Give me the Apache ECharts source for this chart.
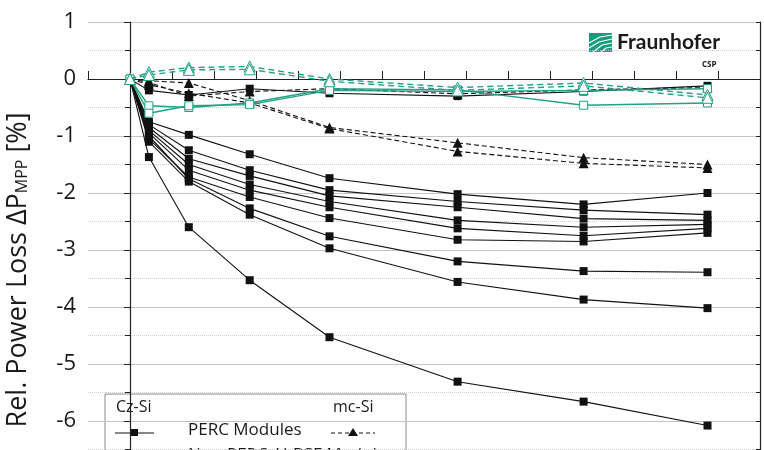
<!DOCTYPE html>
<html>
<head>
<meta charset="utf-8">
<script src="https://cdn.jsdelivr.net/npm/echarts@6/dist/echarts.min.js"></script>
<style>
  html, body { margin: 0; padding: 0; background: #fff; }
  #chart { width: 764px; height: 450px; }
</style>
</head>
<body>
<div id="chart"></div>
<script>
// measurement points on the x axis (axis ticks every 10 units)
const xPoints = [0, 4.5, 14, 28.5, 47.5, 78, 108, 137.5];

// Cz-Si PERC modules: solid black, filled squares
const czPerc = [
  [0, -1.37, -2.6, -3.53, -4.53, -5.31, -5.66, -6.08],
  [0, -1.1, -1.8, -2.38, -2.97, -3.56, -3.87, -4.02],
  [0, -1.0, -1.75, -2.27, -2.76, -3.2, -3.37, -3.39],
  [0, -0.75, -0.98, -1.32, -1.74, -2.02, -2.2, -2.0],
  [0, -0.8, -1.25, -1.6, -1.95, -2.15, -2.3, -2.38],
  [0, -0.85, -1.4, -1.7, -2.05, -2.25, -2.45, -2.48],
  [0, -0.9, -1.5, -1.85, -2.15, -2.48, -2.6, -2.55],
  [0, -0.95, -1.6, -1.95, -2.25, -2.62, -2.75, -2.62],
  [0, -1.05, -1.72, -2.07, -2.44, -2.82, -2.85, -2.7],
  [0, -0.2, -0.28, -0.17, -0.25, -0.3, -0.22, -0.12]
];

// mc-Si PERC modules: dashed black, filled triangles
const mcPerc = [
  [0, -0.03, -0.07, -0.38, -0.85, -1.12, -1.38, -1.5],
  [0, -0.1, -0.25, -0.42, -0.87, -1.27, -1.48, -1.56],
  [0, -0.06, -0.3, -0.22, -0.17, -0.26, -0.19, -0.15]
];

// Cz-Si Al-BSF modules: solid teal, open squares
const czBsf = [
  [0, -0.47, -0.5, -0.42, -0.17, -0.19, -0.46, -0.42],
  [0, -0.6, -0.47, -0.45, -0.2, -0.22, -0.2, -0.17]
];

// mc-Si Al-BSF modules: dashed teal, open triangles
const mcBsf = [
  [0, 0.12, 0.2, 0.22, 0.0, -0.15, -0.07, -0.28],
  [0, 0.07, 0.16, 0.17, -0.04, -0.2, -0.12, -0.33]
];

// y axis tick labels
const yTicks = [1, 0, -1, -2, -3, -4, -5, -6, -7];

const black = '#111111';
const teal = '#23a085';
const font = 'Open Sans';

const toPoints = (values, hideFirst) =>
  values.map((v, i) => (i === 0 && hideFirst ? { value: [xPoints[i], v], symbol: 'none' } : [xPoints[i], v]));

const series = [];

czPerc.forEach((vals) => {
  series.push({
    type: 'line',
    data: toPoints(vals, true),
    symbol: 'rect',
    symbolSize: 8,
    lineStyle: { color: black, width: 1.1 },
    itemStyle: { color: black },
    animation: false,
    z: 2
  });
});

mcPerc.forEach((vals) => {
  series.push({
    type: 'line',
    data: toPoints(vals, true),
    symbol: 'triangle',
    symbolSize: 10,
    lineStyle: { color: black, width: 1.1, type: [5, 3] },
    itemStyle: { color: black },
    animation: false,
    z: 3
  });
});

czBsf.forEach((vals) => {
  series.push({
    type: 'line',
    data: toPoints(vals, false),
    symbol: 'rect',
    symbolSize: 8,
    lineStyle: { color: teal, width: 1.4 },
    itemStyle: { color: '#fff', borderColor: teal, borderWidth: 1 },
    animation: false,
    z: 4
  });
});

mcBsf.forEach((vals) => {
  series.push({
    type: 'line',
    data: toPoints(vals, false),
    symbol: 'triangle',
    symbolSize: 11,
    lineStyle: { color: teal, width: 1.4, type: [6, 4] },
    itemStyle: { color: '#fff', borderColor: teal, borderWidth: 1 },
    animation: false,
    z: 5
  });
});

const txt = (x, y, text, size, weight, family) => ({
  type: 'text',
  x: x,
  y: y,
  style: { text: text, fontFamily: family || font, fontSize: size, fontWeight: weight || 'normal', fill: '#1a1a1a' }
});

const chart = echarts.init(document.getElementById('chart'));

const option = {
  backgroundColor: '#ffffff',
  animation: false,
  grid: { left: 88, top: 22, width: 672, height: 456, outerBoundsMode: 'none', containLabel: false },
  xAxis: {
    type: 'value',
    position: 'top',
    min: -10,
    max: 150,
    interval: 10,
    axisLine: { lineStyle: { color: '#222', width: 1.2 } },
    axisTick: { inside: false, length: 8, lineStyle: { color: '#222', width: 1 } },
    axisLabel: { show: false },
    splitLine: { show: false }
  },
  yAxis: [
    {
      type: 'value',
      min: -7,
      max: 1,
      interval: 1,
      name: 'Rel. Power Loss ΔP{sub|MPP} [%]',
      nameLocation: 'middle',
      nameRotate: 90,
      nameGap: 56,
      nameTextStyle: {
        fontFamily: font,
        fontSize: 27,
        color: '#1a1a1a',
        padding: [0, 40, 0, 0],
        rich: {
          sub: { fontFamily: font, fontSize: 16, color: '#1a1a1a', padding: [8, 0, 0, 0] }
        }
      },
      axisLine: { show: true, lineStyle: { color: '#222', width: 1.2 } },
      axisTick: { inside: false, length: 6, lineStyle: { color: '#222' } },
      minorTick: { show: true, splitNumber: 2, length: 5, lineStyle: { color: '#222' } },
      axisLabel: {
        fontFamily: font,
        fontSize: 22,
        color: '#1a1a1a',
        margin: 12,
        formatter: (v) => (yTicks.includes(v) ? String(v) : '')
      },
      splitLine: { show: true, lineStyle: { color: '#c4c4c4', width: 1 } },
      minorSplitLine: { show: true, lineStyle: { color: '#cfcfcf', type: 'dotted', width: 1 } }
    },
    {
      type: 'value',
      position: 'right',
      min: -7,
      max: 1,
      interval: 1,
      axisLine: { show: true, lineStyle: { color: '#222', width: 1.2 } },
      axisTick: { inside: true, length: 4, lineStyle: { color: '#222' } },
      minorTick: { show: true, splitNumber: 2, length: 4, lineStyle: { color: '#222' } },
      axisLabel: { show: false },
      splitLine: { show: false }
    }
  ],
  series: series,
  graphic: [
    // Fraunhofer logo
    {
      type: 'group',
      x: 589,
      y: 33,
      children: [
        { type: 'rect', shape: { x: 0, y: 0, width: 23, height: 19 }, style: { fill: '#179c7d' } },
        { type: 'polyline', shape: { points: [[0, 15], [10, 9], [23, 6]] }, style: { stroke: '#fff', lineWidth: 1.2, fill: null } },
        { type: 'polyline', shape: { points: [[0, 10], [11, 4], [23, 2]] }, style: { stroke: '#fff', lineWidth: 1.2, fill: null } },
        { type: 'polyline', shape: { points: [[4, 19], [13, 12], [23, 10]] }, style: { stroke: '#fff', lineWidth: 1.2, fill: null } },
        { type: 'polyline', shape: { points: [[12, 19], [17, 15], [23, 14]] }, style: { stroke: '#fff', lineWidth: 1.2, fill: null } },
        txt(28, -1, 'Fraunhofer', 21, 700, 'Lato'),
        txt(113, 28, 'CSP', 8, 700)
      ]
    },
    // legend box
    {
      type: 'group',
      x: 105,
      y: 394,
      children: [
        { type: 'rect', shape: { x: 0, y: 0, width: 301, height: 90 }, style: { fill: '#fff', stroke: '#8a8a8a', lineWidth: 1 } },
        txt(11, 5, 'Cz-Si', 16),
        txt(228, 5, 'mc-Si', 16),
        { type: 'line', shape: { x1: 10, y1: 39, x2: 49, y2: 39 }, style: { stroke: black, lineWidth: 1 } },
        { type: 'rect', shape: { x: 26, y: 35, width: 7, height: 7 }, style: { fill: black } },
        txt(83, 28, 'PERC Modules', 17),
        { type: 'line', shape: { x1: 226, y1: 39, x2: 270, y2: 39 }, style: { stroke: black, lineWidth: 1, lineDash: [4, 3] } },
        { type: 'polygon', shape: { points: [[248, 34], [253, 42], [243, 42]] }, style: { fill: black } },
        { type: 'line', shape: { x1: 10, y1: 60, x2: 49, y2: 60 }, style: { stroke: teal, lineWidth: 1.2 } },
        txt(83, 53, 'Non-PERC Al-BSF Modules', 17)
      ]
    }
  ]
};

chart.setOption(option);
</script>
</body>
</html>
